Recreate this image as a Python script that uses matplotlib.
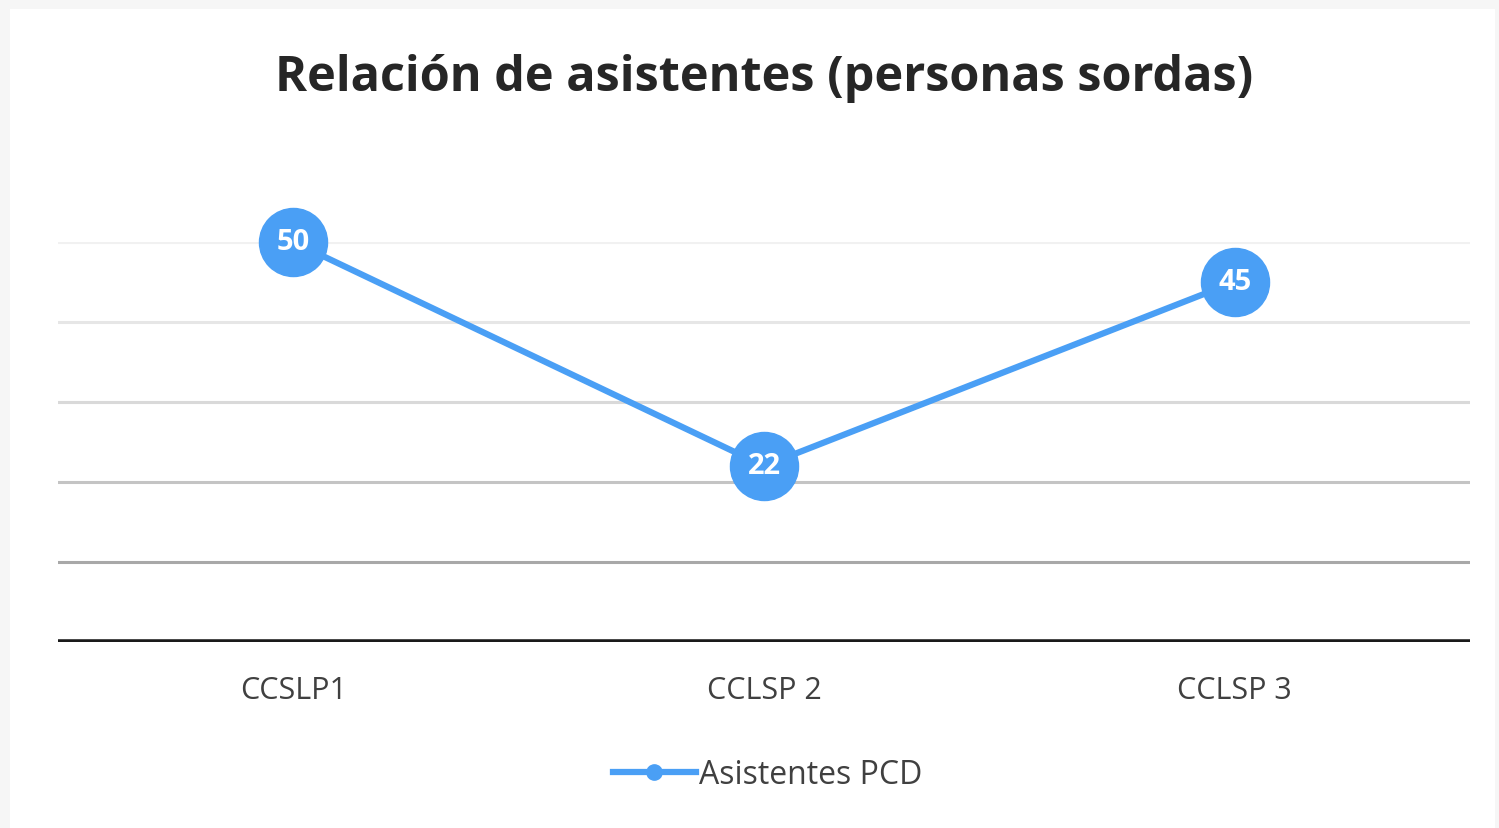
import matplotlib
matplotlib.use("Agg")
import matplotlib.pyplot as plt
from matplotlib.patches import Rectangle
from matplotlib.lines import Line2D

categories = ["CCSLP1", "CCLSP 2", "CCLSP 3"]
values = [50, 22, 45]
series_name = "Asistentes PCD"
title = "Relación de asistentes (personas sordas)"
grid_levels = [10, 20, 30, 40, 50]
grid_colors = ["#a8a8a8", "#c4c4c4", "#d9d9d9", "#e6e6e6", "#f1f1f1"]

plt.rcParams['font.family'] = ['Open Sans', 'DejaVu Sans']
blue = "#4a9ff5"

fig = plt.figure(figsize=(14.99, 8.29), dpi=100)
fig.patch.set_facecolor("#f6f6f6")
bg = Rectangle((0.007, 0.0), 0.99, 0.988, transform=fig.transFigure,
               facecolor="white", edgecolor="none", zorder=-10)
fig.add_artist(bg)

ax = fig.add_axes([0.0387, 0.2245, 0.942, 0.4824])
ax.set_zorder(2)
ax.set_facecolor("none")
x = list(range(len(categories)))
ax.set_xlim(-0.5, len(categories) - 0.5)
ax.set_ylim(0, 50)

for lvl, c in zip(grid_levels, grid_colors):
    ax.axhline(lvl, color=c, lw=2.2, zorder=1)
ax.axhline(0, color="#1a1a1a", lw=4.0, zorder=2)

ax.plot(x, values, color=blue, lw=4.5, marker="o", markersize=49,
        markerfacecolor=blue, markeredgecolor=blue, clip_on=False, zorder=3)
for xi, v in zip(x, values):
    ax.text(xi, v, str(v), color="white", fontsize=21, fontweight="bold",
            ha="center", va="center", zorder=4)

for s in ax.spines.values():
    s.set_visible(False)
ax.set_yticks([])
ax.set_xticks(x)
ax.set_xticklabels(categories, fontsize=22, color="#404040")
ax.tick_params(axis="x", length=0, pad=24)

fig.text(0.5097, 0.905, title, ha="center", va="center", fontsize=35,
         fontweight="bold", color="#262626")

handle = Line2D([], [], color=blue, lw=4.5, marker="o", markersize=11,
                markerfacecolor=blue, markeredgecolor=blue)
leg = fig.legend([handle], [series_name], loc="center", bbox_to_anchor=(0.512, 0.064),
                 frameon=False, fontsize=23, handlelength=2.6, handletextpad=0.1)
for t in leg.get_texts():
    t.set_color("#404040")

fig.savefig("out.png", dpi=100)
